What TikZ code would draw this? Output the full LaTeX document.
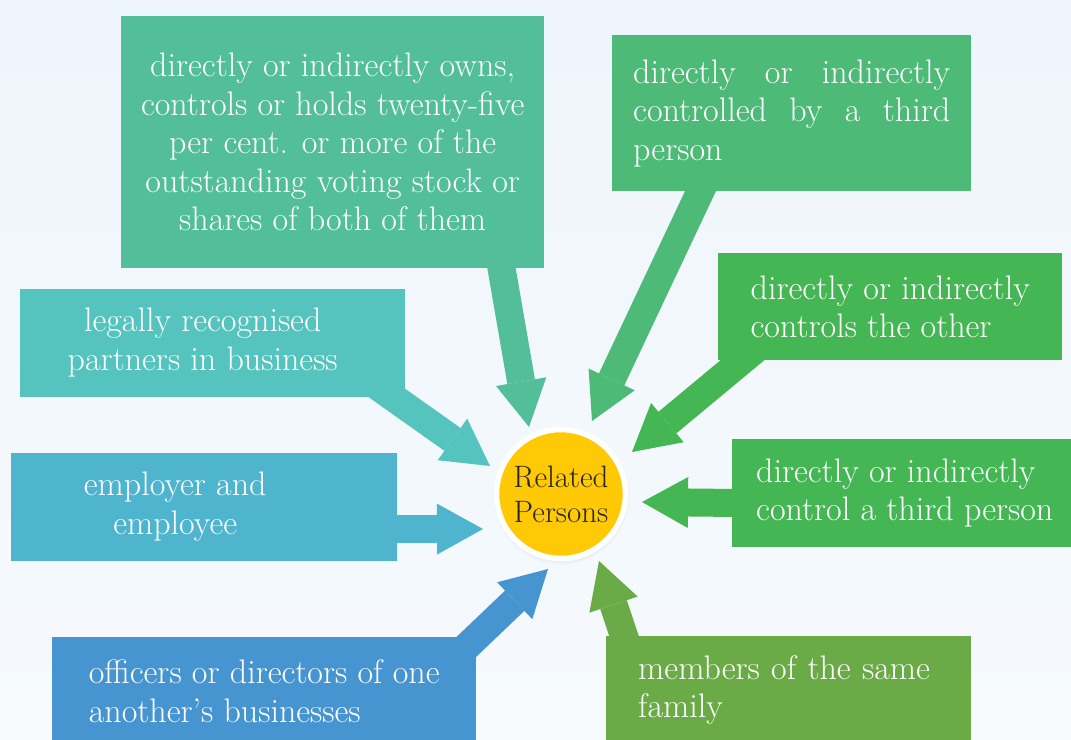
\documentclass[tikz,border=0pt]{standalone}
\usepackage{tikz}
\usetikzlibrary{arrows.meta}
\usetikzlibrary{shadows}
\definecolor{bgtop}{HTML}{EEF5FC}
\definecolor{bgbot}{HTML}{F6FAFD}
\definecolor{ownc}{HTML}{52BE9A}
\definecolor{thirdc}{HTML}{4DBA77}
\definecolor{ctrlc}{HTML}{45B654}
\definecolor{famc}{HTML}{6AAB47}
\definecolor{offc}{HTML}{4695D1}
\definecolor{empc}{HTML}{4FB4CE}
\definecolor{partc}{HTML}{56C4BE}
\definecolor{hubc}{HTML}{FFC906}
\pgfdeclarelayer{bg}
\pgfdeclarelayer{shafts}
\pgfsetlayers{bg,shafts,main}

\begin{document}
\begin{tikzpicture}[x=1pt, y=-1pt,
    infobox/.style={rectangle, fill=#1, text=white, anchor=north west,
      inner sep=0pt, font=\fontsize{34}{38.5}\selectfont},
    fat/.style={draw=#1, line width=28pt,
      -{Triangle[width=51pt, length=46pt, line width=0pt]}},
    hub/.style={circle, fill=hubc, draw=white, line width=5.5pt,
      minimum size=129pt, inner sep=0pt, align=center, text=black!85,
      font=\fontsize{31}{35}\selectfont,
      circular drop shadow={shadow xshift=0pt, shadow yshift=-2pt,
        opacity=0.25, shadow scale=1.06}}]
    \useasboundingbox (0,0) rectangle (1071,739);
    \begin{pgfonlayer}{bg}
      \shade[top color=bgtop, bottom color=bgbot] (0,0) rectangle (1071,739);
    \end{pgfonlayer}

    % the person in the middle
    \node[hub] (rp) at (561,494) {Related\\Persons};

    % the boxes round it
    \node[infobox=ownc, align=center, minimum width=423pt, minimum height=252pt]
    (own) at (121,16) {directly or indirectly owns,\\controls or holds twenty-five\\
      per cent. or more of the\\outstanding voting stock or\\shares of both of them};
    \node[infobox=thirdc, text width=317pt, align=justify, inner xsep=21pt,
      minimum height=156pt]
    (third) at (612,35) {directly or indirectly\linebreak controlled by a
      third\linebreak person};
    \node[infobox=ctrlc, align=left, minimum width=344pt, minimum height=107pt]
    (other) at (718,253) {directly or indirectly\\controls the other};
    \node[infobox=ctrlc, align=left, inner xsep=24pt, minimum height=108pt]
    (ctrl) at (732,439) {directly or indirectly\\control a third person};
    \node[infobox=famc, align=left, text width=301pt, inner xsep=32pt,
      minimum height=108pt]
    (fam) at (606,636) {members of the same\\family};
    \node[infobox=offc, align=left, minimum width=424pt, minimum height=108pt]
    (off) at (52,637) {officers or directors of one\\another's businesses};
    \node[infobox=empc, minimum width=386pt, minimum height=108pt]
    (emp) at (11,453) {\begin{tabular}{@{}c@{}}employer and\\employee\end{tabular}\hspace*{58pt}};
    \node[infobox=partc, minimum width=385pt, minimum height=108pt]
    (part) at (20,289) {\begin{tabular}{@{}c@{}}legally recognised\\partners in business\end{tabular}\hspace*{20pt}};

    % fat arrows, behind the boxes
    \begin{pgfonlayer}{shafts}
      \draw[fat=ownc] ([shift={(164.5,-25)}]own.south) -- ([shift={(-32,-67)}]rp.center);
      \draw[fat=thirdc] ([shift={(-80.5,-23)}]third.south) -- ([shift={(31,-73)}]rp.center);
      \draw[fat=ctrlc] ([shift={(41,-14)}]other.south west) -- ([shift={(71,-42)}]rp.center);
      \draw[fat=ctrlc] ([shift={(25,10)}]ctrl.west) -- ([shift={(81,8)}]rp.center);
      \draw[fat=famc] ([shift={(26,24)}]fam.north west) -- ([shift={(38,67)}]rp.center);
      \draw[fat=offc] ([shift={(-28,27)}]off.north east) -- ([shift={(-13,75)}]rp.center);
      \draw[fat=empc] ([shift={(-25,22)}]emp.east) -- ([shift={(-78,35)}]rp.center);
      \draw[fat=partc] ([shift={(-32,-14)}]part.south east) -- ([shift={(-71,-28)}]rp.center);
    \end{pgfonlayer}
\end{tikzpicture}
\end{document}
